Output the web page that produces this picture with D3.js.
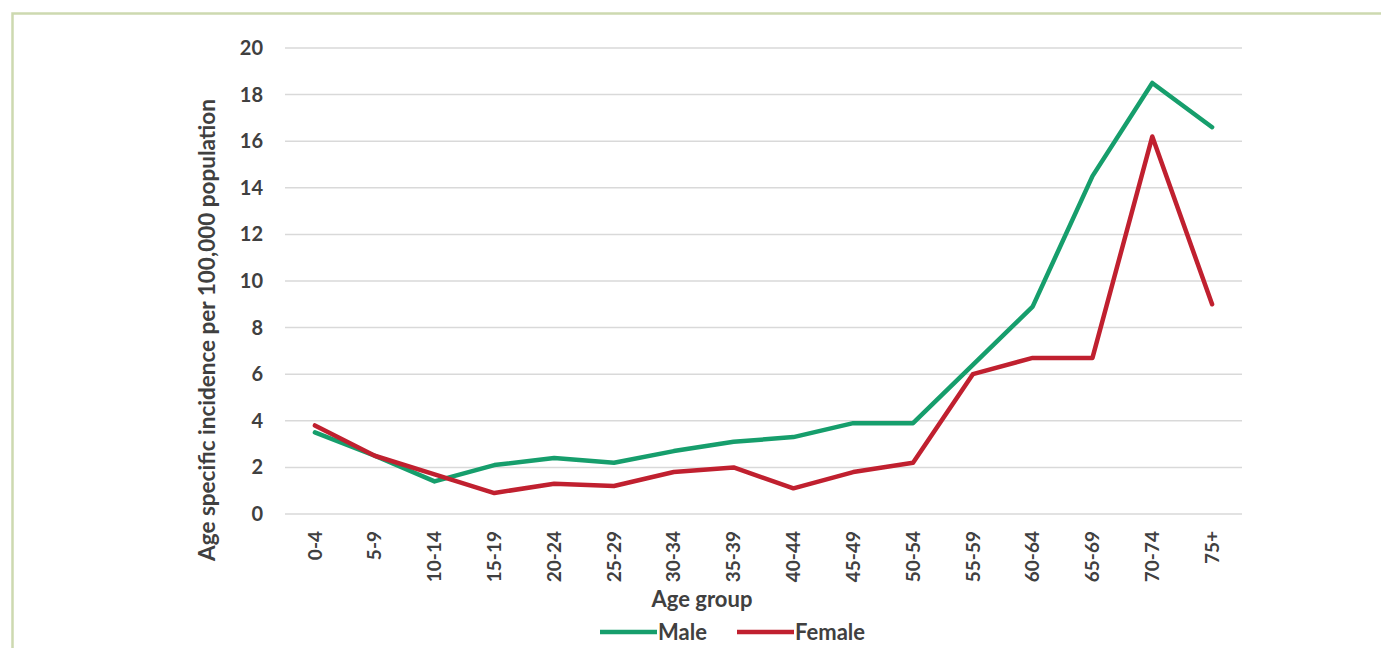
<!DOCTYPE html>
<html>
<head>
<meta charset="utf-8">
<script src="https://cdn.jsdelivr.net/npm/d3@7"></script>
<style>
  html, body { margin: 0; padding: 0; background: #ffffff; }
  svg { display: block; }
  text { font-family: Lato, "Open Sans", sans-serif; font-weight: bold; fill: #404040; }
</style>
</head>
<body>
<svg id="chart" width="1381" height="648"></svg>
<script>
const categories = ["0-4","5-9","10-14","15-19","20-24","25-29","30-34","35-39","40-44","45-49","50-54","55-59","60-64","65-69","70-74","75+"];
const maleValues   = [3.5, 2.5, 1.4, 2.1, 2.4, 2.2, 2.7, 3.1, 3.3, 3.9, 3.9, 6.4, 8.9, 14.5, 18.5, 16.6];
const femaleValues = [3.8, 2.5, 1.7, 0.9, 1.3, 1.2, 1.8, 2.0, 1.1, 1.8, 2.2, 6.0, 6.7, 6.7, 16.2, 9.0];
const yTicks = [0, 2, 4, 6, 8, 10, 12, 14, 16, 18, 20];
const seriesNames = ["Male", "Female"];
const seriesColors = ["#169e6c", "#c0202f"];

const svg = d3.select("#chart");

// outer frame
svg.append("path")
  .attr("d", "M12.5,648 L12.5,13.5 L1381,13.5")
  .attr("fill", "none")
  .attr("stroke", "#cdd9b0")
  .attr("stroke-width", 2.5);

const mLeft = 285, mRight = 1242, mTop = 48, mBottom = 514;

const x = d3.scaleBand().domain(categories).range([mLeft, mRight]).paddingInner(0).paddingOuter(0);
const y = d3.scaleLinear().domain([0, 20]).range([mBottom, mTop]);

// gridlines
svg.append("g")
  .selectAll("line")
  .data(yTicks)
  .join("line")
  .attr("x1", mLeft).attr("x2", mRight)
  .attr("y1", d => y(d)).attr("y2", d => y(d))
  .attr("stroke", "#d9d9d9")
  .attr("stroke-width", 1.5);

// y axis
const yAxis = d3.axisLeft(y).tickValues(yTicks).tickSize(0).tickPadding(22);
const gy = svg.append("g").attr("transform", `translate(${mLeft},0)`).call(yAxis);
gy.select(".domain").remove();
gy.selectAll("text").style("font-size", "20px").attr("fill", "#404040");

// x axis
const xAxis = d3.axisBottom(x).tickSize(0).tickPadding(0);
const gx = svg.append("g").attr("transform", `translate(0,${mBottom})`).call(xAxis);
gx.select(".domain").remove();
gx.selectAll("text")
  .style("font-size", "19px")
  .attr("fill", "#404040")
  .attr("text-anchor", "end")
  .attr("dy", "0.35em")
  .attr("y", 0)
  .attr("transform", `translate(0,17) rotate(-90)`);

// lines
const line = d3.line()
  .x((d, i) => x(categories[i]) + x.bandwidth() / 2)
  .y(d => y(d));

[maleValues, femaleValues].forEach((vals, k) => {
  svg.append("path")
    .datum(vals)
    .attr("d", line)
    .attr("fill", "none")
    .attr("stroke", seriesColors[k])
    .attr("stroke-width", 4.5)
    .attr("stroke-linejoin", "round")
    .attr("stroke-linecap", "round");
});

// axis titles
svg.append("text")
  .attr("x", 702)
  .attr("y", 607)
  .attr("text-anchor", "middle")
  .style("font-size", "22px")
  .text("Age group");

svg.append("text")
  .attr("transform", `translate(215,330) rotate(-90)`)
  .attr("text-anchor", "middle")
  .style("font-size", "22.5px")
  .text("Age specific incidence per 100,000 population");

// legend
const legendItems = [
  { name: seriesNames[0], color: seriesColors[0], x0: 600 },
  { name: seriesNames[1], color: seriesColors[1], x0: 737 }
];
const lg = svg.append("g");
legendItems.forEach(it => {
  lg.append("line")
    .attr("x1", it.x0).attr("x2", it.x0 + 57)
    .attr("y1", 632).attr("y2", 632)
    .attr("stroke", it.color).attr("stroke-width", 4.5);
  lg.append("text")
    .attr("x", it.x0 + 58).attr("y", 640)
    .style("font-size", "22px")
    .text(it.name);
});
</script>
</body>
</html>
